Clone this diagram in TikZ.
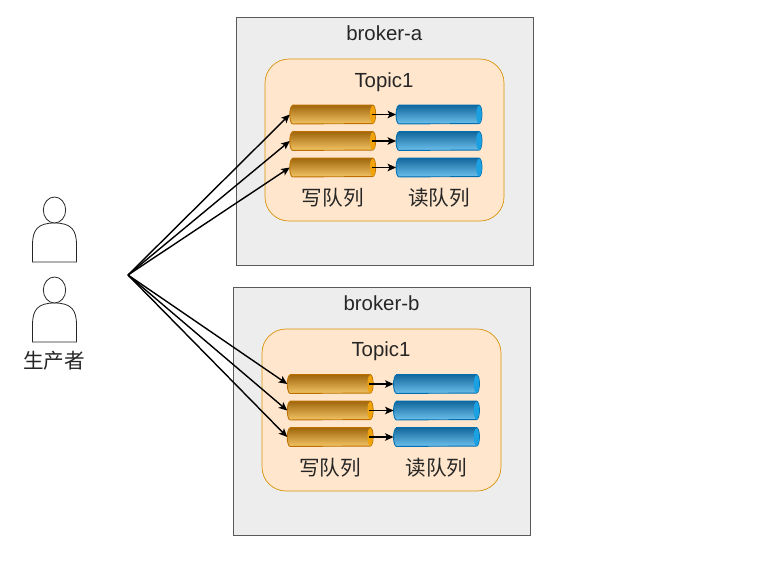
\documentclass[tikz,border=0pt]{standalone}
\usepackage{fontspec}
\setmainfont{Liberation Sans}
\newfontfamily\cjk{Noto Sans CJK SC}
\usetikzlibrary{arrows.meta,shapes.geometric}
\definecolor{oS}{HTML}{BD7000}
\definecolor{oCap}{HTML}{F0A30A}
\definecolor{oTop}{HTML}{A0660C}
\definecolor{oBot}{HTML}{F2C464}
\definecolor{bS}{HTML}{006EAF}
\definecolor{bCap}{HTML}{1BA1E2}
\definecolor{bTop}{HTML}{12679C}
\definecolor{bBot}{HTML}{6CC0EC}
\definecolor{topicfill}{HTML}{FFE6CC}
\tikzset{
  x=1pt,y=-1pt,
  brokerbox/.style={draw=black!65,fill=black!7,line width=0.8pt,minimum width=297pt,minimum height=248pt,inner sep=0pt},
  topicbox/.style={draw=oCap!90!black,fill=topicfill,line width=0.7pt,rounded corners=24pt,minimum width=239pt,minimum height=162pt,inner sep=0pt},
  lbl/.style={inner sep=0pt,font=\fontsize{20.4pt}{22pt}\selectfont,text=black!85},
  cjklbl/.style={inner sep=0pt,font=\cjk\fontsize{20.6pt}{22pt}\selectfont,text=black!85},
  cylanchor/.style={minimum width=85.5pt,minimum height=18.5pt,inner sep=0pt},
  ocyl/.style={draw=oS,line width=0.9pt,top color=oTop,bottom color=oBot},
  bcyl/.style={draw=bS,line width=0.9pt,top color=bTop,bottom color=bBot},
  capo/.style={fill=oCap},
  capb/.style={fill=bCap},
  flow/.style={draw=black,line width=1.4pt,-{Stealth[length=8.5pt,width=7.5pt,inset=2pt]}},
  personline/.style={draw=black!85,line width=0.8pt,fill=white},
}
\newcommand{\cyl}[5]{%
  \node[cylanchor] (#1) at (#2,#3) {};
  \path[#4] ([xshift=3pt]#1.north west) -- ([xshift=-3pt]#1.north east)
     arc[start angle=90,end angle=-90,x radius=3pt,y radius=9.25pt]
     -- ([xshift=3pt]#1.south west)
     arc[start angle=270,end angle=90,x radius=3pt,y radius=9.25pt] -- cycle;
  \path[#5] ([xshift=-3pt]#1.east) ellipse [x radius=2.7pt,y radius=8.85pt];
}
\newcommand{\person}[2]{%
  \path[personline] (#1-22,#2+52) -- (#1-22,#2+35) .. controls (#1-22,#2+20) and (#1-17,#2+13) .. (#1,#2+13) .. controls (#1+17,#2+13) and (#1+22,#2+20) .. (#1+22,#2+35) -- (#1+22,#2+52) -- cycle;
  \path[personline] (#1,#2) ellipse [x radius=11.2pt,y radius=13pt];
}
\begin{document}
\begin{tikzpicture}
\useasboundingbox (0,0) rectangle (773,582);
\fill[white] (0,0) rectangle (773,582);
% brokers
\node[brokerbox] (ba) at (384.5,141) {};
\node[brokerbox] (bb) at (381.5,411) {};
\node[lbl] (bal) at (384.3,33) {broker-a};
\node[lbl] (bbl) at (381.5,303) {broker-b};
\node[topicbox] (ta) at (384.5,140) {};
\node[topicbox] (tb) at (381.5,410) {};
\node[lbl] (tal) at (384,82.5) {Topic1};
\node[lbl] (tbl) at (381,351.5) {Topic1};
% cylinders
\cyl{oa1}{332.7}{114.5}{ocyl}{capo}\cyl{oa2}{332.7}{141}{ocyl}{capo}\cyl{oa3}{332.7}{167.5}{ocyl}{capo}
\cyl{ca1}{439}{114.5}{bcyl}{capb}\cyl{ca2}{439}{141}{bcyl}{capb}\cyl{ca3}{439}{167.5}{bcyl}{capb}
\cyl{ob1}{330.2}{384}{ocyl}{capo}\cyl{ob2}{330.2}{410.5}{ocyl}{capo}\cyl{ob3}{330.2}{437}{ocyl}{capo}
\cyl{cb1}{436.5}{384}{bcyl}{capb}\cyl{cb2}{436.5}{410.5}{bcyl}{capb}\cyl{cb3}{436.5}{437}{bcyl}{capb}
\node[cjklbl] (wa) at (332.7,198) {写队列};
\node[cjklbl] (ra) at (439,198) {读队列};
\node[cjklbl] (wb) at (330.2,468) {写队列};
\node[cjklbl] (rb) at (436.5,468) {读队列};
% persons
\person{54.5}{210}
\person{54.5}{290}
\node[cjklbl] (pl) at (54,361) {生产者};
% connectors
\coordinate (src) at (128,275);
\foreach \t in {oa1,oa2,oa3,ob1,ob2,ob3}{\draw[flow] (src) -- (\t.west);}
\foreach \s/\t in {oa1/ca1,oa2/ca2,oa3/ca3,ob1/cb1,ob2/cb2,ob3/cb3}{\draw[flow] ([xshift=-4pt]\s.east) -- (\t.west);}
\end{tikzpicture}
\end{document}
